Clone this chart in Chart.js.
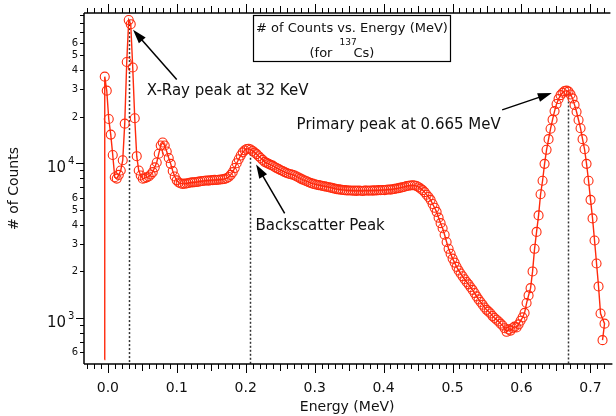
<!DOCTYPE html>
<html>
<head>
<meta charset="utf-8">
<script src="https://cdn.jsdelivr.net/npm/chart.js@4.4.1/dist/chart.umd.min.js"></script>
<style>
  html, body { margin: 0; padding: 0; background: #fff; }
  canvas { display: block; }
</style>
</head>
<body>
<canvas id="spectrum" width="616" height="416"></canvas>
<script>
// Energy (MeV) of each channel
const energy = [
  -0.0050,
  -0.0045,-0.0016,0.0013,0.0042,0.0071,0.0100,0.0129,0.0158,0.0187,0.0216,
  0.0245,0.0274,0.0303,0.0332,0.0361,0.0390,0.0419,0.0448,0.0477,0.0506,
  0.0535,0.0564,0.0593,0.0622,0.0651,0.0680,0.0709,0.0738,0.0767,0.0796,
  0.0825,0.0854,0.0883,0.0912,0.0941,0.0970,0.0999,0.1028,0.1057,0.1086,
  0.1115,0.1144,0.1173,0.1202,0.1231,0.1260,0.1289,0.1318,0.1347,0.1376,
  0.1405,0.1434,0.1463,0.1492,0.1521,0.1550,0.1579,0.1608,0.1637,0.1666,
  0.1695,0.1724,0.1753,0.1782,0.1811,0.1840,0.1869,0.1898,0.1927,0.1956,
  0.1985,0.2014,0.2043,0.2072,0.2101,0.2130,0.2159,0.2188,0.2217,0.2246,
  0.2275,0.2304,0.2333,0.2362,0.2391,0.2420,0.2449,0.2478,0.2507,0.2536,
  0.2565,0.2594,0.2623,0.2652,0.2681,0.2710,0.2739,0.2768,0.2797,0.2826,
  0.2855,0.2884,0.2913,0.2942,0.2971,0.3000,0.3029,0.3058,0.3087,0.3116,
  0.3145,0.3174,0.3203,0.3232,0.3261,0.3290,0.3319,0.3348,0.3377,0.3406,
  0.3435,0.3464,0.3493,0.3522,0.3551,0.3580,0.3609,0.3638,0.3667,0.3696,
  0.3725,0.3754,0.3783,0.3812,0.3841,0.3870,0.3899,0.3928,0.3957,0.3986,
  0.4015,0.4044,0.4073,0.4102,0.4131,0.4160,0.4189,0.4218,0.4247,0.4276,
  0.4305,0.4334,0.4363,0.4392,0.4421,0.4450,0.4479,0.4508,0.4537,0.4566,
  0.4595,0.4624,0.4653,0.4682,0.4711,0.4740,0.4769,0.4798,0.4827,0.4856,
  0.4885,0.4914,0.4943,0.4972,0.5001,0.5030,0.5059,0.5088,0.5117,0.5146,
  0.5175,0.5204,0.5233,0.5262,0.5291,0.5320,0.5349,0.5378,0.5407,0.5436,
  0.5465,0.5494,0.5523,0.5552,0.5581,0.5610,0.5639,0.5668,0.5697,0.5726,
  0.5755,0.5784,0.5813,0.5842,0.5871,0.5900,0.5929,0.5958,0.5987,0.6016,
  0.6045,0.6074,0.6103,0.6132,0.6161,0.6190,0.6219,0.6248,0.6277,0.6306,
  0.6335,0.6364,0.6393,0.6422,0.6451,0.6480,0.6509,0.6538,0.6567,0.6596,
  0.6625,0.6654,0.6683,0.6712,0.6741,0.6770,0.6799,0.6828,0.6857,0.6886,
  0.6915,0.6944,0.6973,0.7002,0.7031,0.7060,0.7089,0.7118,0.7147,0.7205,
  0.7176
];

// # of counts per channel
const counts = [
  540,
  36200,29400,19300,15300,11300,8120,7950,8400,8970,10450,
  18000,45000,84000,79000,41500,19500,11100,8970,8330,7930,
  8000,8100,8200,8450,8750,9400,10100,11500,13000,13600,
  13000,11900,10800,9900,8900,8200,7750,7500,7400,7350,
  7380,7400,7450,7500,7520,7540,7560,7600,7650,7680,
  7700,7730,7720,7760,7780,7800,7790,7820,7850,7880,
  7920,8000,8150,8400,8750,9300,10000,10600,11200,11750,
  12100,12350,12400,12250,12000,11700,11450,11100,10800,10500,
  10200,10050,9900,9750,9650,9450,9300,9150,9000,8900,
  8750,8650,8550,8480,8420,8330,8200,8080,7950,7840,
  7730,7640,7540,7450,7380,7320,7260,7220,7180,7120,
  7080,7040,7000,6950,6900,6850,6800,6780,6750,6720,
  6700,6680,6670,6660,6640,6650,6630,6660,6640,6620,
  6650,6660,6640,6670,6650,6680,6660,6700,6690,6720,
  6700,6740,6760,6750,6790,6830,6860,6900,6950,7000,
  7050,7120,7150,7180,7200,7180,7120,7000,6850,6700,
  6500,6250,6050,5800,5450,5150,4850,4450,4100,3800,
  3450,3100,2800,2600,2420,2280,2140,2030,1940,1860,
  1780,1710,1650,1580,1520,1450,1380,1320,1270,1220,
  1170,1130,1100,1070,1030,1000,975,950,920,895,
  860,815,845,830,860,880,870,910,960,1010,
  1080,1250,1400,1560,2000,2800,3600,4600,6300,7700,
  9900,12200,14300,16700,19100,21700,24100,26000,27500,28500,
  29200,29400,29000,27800,26200,23800,21500,19000,16800,14300,
  12300,9900,7700,5800,4400,3170,2250,1600,1070,920,
  720
];

// axis ticks
const xTickValues = [0, 0.1, 0.2, 0.3, 0.4, 0.5, 0.6, 0.7];
const xTickLabels = ['0.0', '0.1', '0.2', '0.3', '0.4', '0.5', '0.6', '0.7'];
const yDecades = [100, 1000, 10000];
const yDecadeExp = ['2', '3', '4'];
const yLabelledMinor = [2, 3, 4, 5, 6];

// dotted marker lines: energy and the count where they stop
const peakLineEnergy = [0.0303, 0.2055, 0.668];
const peakLineTop = [84000, 11500, 28200];

// callouts, in data coordinates
const noteText = ['X-Ray peak at 32 KeV', 'Backscatter Peak', 'Primary peak at 0.665 MeV'];
const noteAt = [[0.0566, 27700], [0.2143, 3680], [0.2738, 16700]];
const noteTail = [[0.0999, 34700], [0.2565, 4740], [0.572, 22100]];
const noteHead = [[0.0365, 72600], [0.2151, 9810], [0.644, 28400]];

const red = '#ff2a0d';
const FONT = '"DejaVu Sans", Verdana, sans-serif';

function line(ctx, x0, y0, x1, y1) {
  ctx.beginPath();
  ctx.moveTo(x0, y0);
  ctx.lineTo(x1, y1);
  ctx.stroke();
}

function arrow(ctx, x0, y0, x1, y1) {
  const ang = Math.atan2(y1 - y0, x1 - x0);
  const L = 14, W = 4.5;
  const c = Math.cos(ang), s = Math.sin(ang);
  line(ctx, x0, y0, x1 - L * 0.8 * c, y1 - L * 0.8 * s);
  ctx.beginPath();
  ctx.moveTo(x1, y1);
  ctx.lineTo(x1 - L * c + W * s, y1 - L * s - W * c);
  ctx.lineTo(x1 - L * c - W * s, y1 - L * s + W * c);
  ctx.closePath();
  ctx.fill();
}

const framePlugin = {
  id: 'frame',
  beforeDatasetsDraw(chart) {
    const { ctx, chartArea: a, scales: { x, y } } = chart;
    ctx.save();
    ctx.strokeStyle = '#333';
    ctx.lineWidth = 1.5;
    ctx.setLineDash([2, 2]);
    peakLineEnergy.forEach((e, i) => {
      const px = Math.round(x.getPixelForValue(e)) + 0.5;
      line(ctx, px, y.getPixelForValue(peakLineTop[i]), px, a.bottom);
    });
    ctx.restore();
  },
  afterDraw(chart) {
    const { ctx, chartArea: a, scales: { x, y } } = chart;
    ctx.save();
    ctx.strokeStyle = '#000';
    ctx.fillStyle = '#111';

    // frame lines (bottom, top, left)
    ctx.lineWidth = 1.5;
    line(ctx, a.left, a.bottom, a.right + 2, a.bottom);
    line(ctx, a.left, a.top, a.right, a.top);
    line(ctx, a.left, a.top, a.left, a.bottom);

    // x ticks, every 0.01 MeV, mirrored on top
    ctx.lineWidth = 1;
    for (let k = -3; k <= 73; k++) {
      const v = k / 100;
      if (v < x.min || v > x.max) continue;
      const px = Math.round(x.getPixelForValue(v)) + 0.5;
      const len = k % 10 === 0 ? 9 : (k % 5 === 0 ? 7 : 5);
      line(ctx, px, a.bottom, px, a.bottom + len);
      line(ctx, px, a.top, px, a.top - len);
    }
    ctx.font = '14px ' + FONT;
    ctx.textAlign = 'center';
    ctx.textBaseline = 'middle';
    xTickValues.forEach((v, i) => {
      ctx.fillText(xTickLabels[i], x.getPixelForValue(v), a.bottom + 24);
    });

    // y ticks (log)
    yDecades.forEach((d, di) => {
      for (let m = 1; m <= 9; m++) {
        const v = m * d;
        if (v < y.min || v > y.max) continue;
        const py = Math.round(y.getPixelForValue(v)) + 0.5;
        line(ctx, a.left - (m === 1 ? 8 : 4), py, a.left, py);
        if (m === 1) {
          ctx.textBaseline = 'alphabetic';
          ctx.textAlign = 'right';
          ctx.font = '15px ' + FONT;
          ctx.fillText('10', a.left - 18, py + 8);
          ctx.textAlign = 'left';
          ctx.font = '10px ' + FONT;
          ctx.fillText(yDecadeExp[di], a.left - 16, py);
        } else if (yLabelledMinor.includes(m)) {
          ctx.textBaseline = 'middle';
          ctx.textAlign = 'right';
          ctx.font = '10px ' + FONT;
          ctx.fillText(String(m), a.left - 6, py);
        }
      }
    });

    // axis titles
    ctx.font = '14px ' + FONT;
    ctx.textAlign = 'center';
    ctx.textBaseline = 'middle';
    ctx.fillText('Energy (MeV)', (a.left + a.right) / 2, a.bottom + 43);
    ctx.save();
    ctx.translate(14, (a.top + a.bottom) / 2);
    ctx.rotate(-Math.PI / 2);
    ctx.fillText('# of Counts', 0, 0);
    ctx.restore();

    // callouts
    ctx.lineWidth = 1.5;
    noteText.forEach((t, i) => {
      const tx = x.getPixelForValue(noteTail[i][0]), ty = y.getPixelForValue(noteTail[i][1]);
      const hx = x.getPixelForValue(noteHead[i][0]), hy = y.getPixelForValue(noteHead[i][1]);
      ctx.fillStyle = '#000';
      arrow(ctx, tx, ty, hx, hy);
      ctx.fillStyle = '#111';
      ctx.font = '15px ' + FONT;
      ctx.textAlign = 'left';
      ctx.textBaseline = 'alphabetic';
      ctx.fillText(t, x.getPixelForValue(noteAt[i][0]), y.getPixelForValue(noteAt[i][1]));
    });

    // title box
    const bx = 253.5, by = 15.5, bw = 197, bh = 46;
    ctx.fillStyle = '#fff';
    ctx.fillRect(bx, by, bw, bh);
    ctx.lineWidth = 1.2;
    ctx.strokeStyle = '#000';
    ctx.strokeRect(bx, by, bw, bh);
    ctx.fillStyle = '#111';
    ctx.font = '13px ' + FONT;
    ctx.textAlign = 'center';
    ctx.textBaseline = 'alphabetic';
    ctx.fillText('# of Counts vs. Energy (MeV)', bx + bw / 2, by + 16);
    ctx.textAlign = 'left';
    ctx.fillText('(for', bx + 56, by + 41);
    ctx.font = '9px ' + FONT;
    ctx.fillText('137', bx + 86, by + 29);
    ctx.font = '13px ' + FONT;
    ctx.fillText('Cs)', bx + 100, by + 41);

    ctx.restore();
  }
};

new Chart(document.getElementById('spectrum'), {
  type: 'line',
  data: {
    datasets: [{
      data: energy.map((e, i) => ({ x: e, y: counts[i] })),
      borderColor: red,
      borderWidth: 1.4,
      pointStyle: 'circle',
      pointRadius: c => (c.dataIndex === 0 ? 0 : 4.5),
      pointBorderColor: red,
      pointBackgroundColor: 'rgba(0,0,0,0)',
      pointBorderWidth: 1.1,
      tension: 0
    }]
  },
  options: {
    responsive: false,
    animation: false,
    events: [],
    layout: { padding: { left: 84, top: 13, right: 2, bottom: 52 } },
    plugins: { legend: { display: false }, tooltip: { enabled: false } },
    scales: {
      x: { type: 'linear', min: -0.0346, max: 0.729, display: false },
      y: { type: 'logarithmic', min: 505, max: 93300, display: false }
    }
  },
  plugins: [framePlugin]
});
</script>
</body>
</html>
